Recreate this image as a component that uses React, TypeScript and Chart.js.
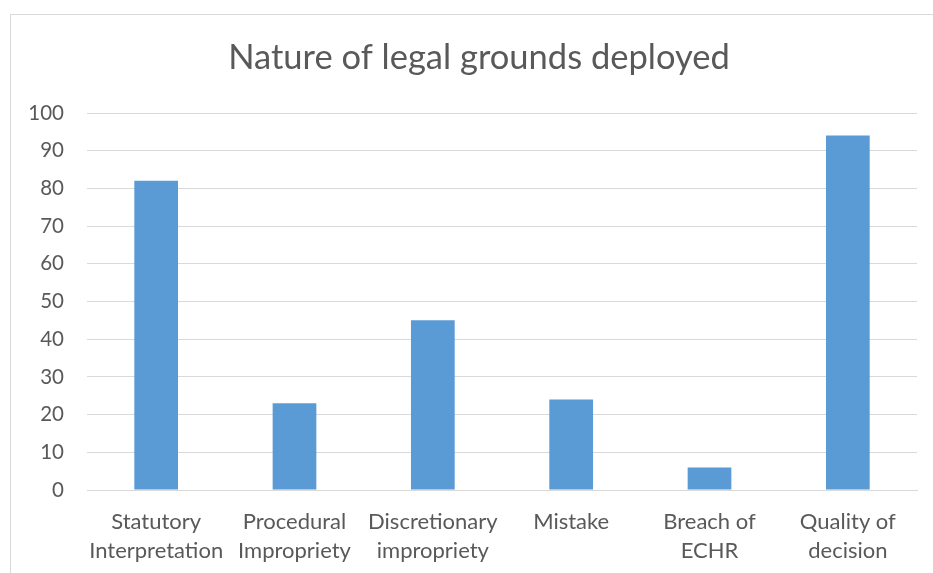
import React, { useEffect, useRef } from "react";
import { Chart, registerables } from "chart.js";

Chart.register(...registerables);

const categories: string[][] = [
  ["Statutory", "Interpretation"],
  ["Procedural", "Impropriety"],
  ["Discretionary", "impropriety"],
  ["Mistake"],
  ["Breach of", "ECHR"],
  ["Quality of", "decision"],
];
const values: number[] = [82, 23, 45, 24, 6, 94];
const chartTitle = "Nature of legal grounds deployed";

const TEXT = "#595959";
const GRID = "#d9d9d9";
const BAR = "#5B9BD5";
const FONT = "Lato, 'Open Sans', sans-serif";

// Centre the title over the full chart frame (which extends past the right edge)
const titleShift = {
  id: "titleShift",
  afterLayout(chart: any) {
    const tb = chart.titleBlock;
    if (tb) {
      tb.left = 41;
      tb.right = 917;
      tb.width = tb.right - tb.left;
    }
  },
};

export default function App() {
  const ref = useRef<HTMLCanvasElement | null>(null);
  useEffect(() => {
    if (!ref.current) return;
    const chart = new Chart(ref.current, {
      type: "bar",
      data: {
        labels: categories,
        datasets: [
          {
            data: values,
            backgroundColor: BAR,
            categoryPercentage: 1,
            barPercentage: 0.316,
          },
        ],
      },
      options: {
        responsive: false,
        animation: false,
        layout: { padding: { left: 0, right: 16, top: 0, bottom: 0 } },
        plugins: {
          legend: { display: false },
          tooltip: { enabled: false },
          title: {
            display: true,
            text: chartTitle,
            color: TEXT,
            font: { family: FONT, size: 34.5, weight: "normal", lineHeight: 1.2 },
            padding: { top: 37.3, bottom: 34.3 },
          },
        },
        scales: {
          x: {
            grid: { display: false, drawTicks: false },
            border: { display: true, color: GRID },
            ticks: {
              color: TEXT,
              font: { family: FONT, size: 22, lineHeight: 1.32 },
              padding: 17.5,
              maxRotation: 0,
              autoSkip: false,
            },
            afterFit: (s: any) => {
              s.height = 83;
            },
          },
          y: {
            min: 0,
            max: 100,
            grid: { color: GRID, drawTicks: false, lineWidth: 1 },
            border: { display: false },
            ticks: {
              stepSize: 10,
              color: TEXT,
              font: { family: FONT, size: 20.5 },
              padding: 23,
            },
            afterFit: (s: any) => {
              s.width = 87;
            },
          },
        },
      },
      plugins: [titleShift],
    });
    return () => chart.destroy();
  }, []);

  return (
    <div style={{ position: "fixed", left: 0, top: 0, width: 933, height: 573, background: "#fff" }}>
      <div
        style={{
          position: "absolute",
          left: 10,
          top: 14,
          width: 923,
          height: 559,
          borderLeft: `1px solid ${GRID}`,
          borderTop: `1px solid ${GRID}`,
        }}
      />
      <canvas
        ref={ref}
        width={933}
        height={573}
        style={{ position: "absolute", left: 0, top: 0, width: 933, height: 573 }}
      />
    </div>
  );
}
